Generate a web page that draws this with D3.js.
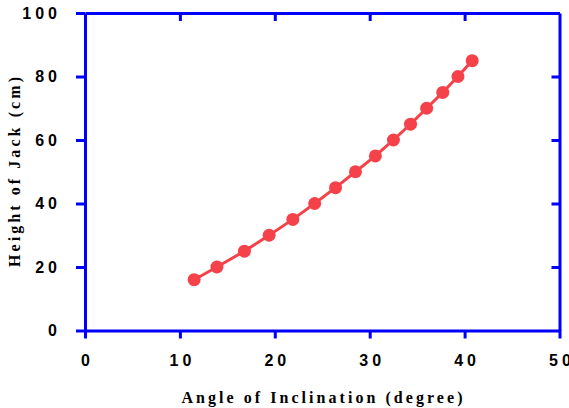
<!DOCTYPE html>
<html>
<head>
<meta charset="utf-8">
<title></title>
<script src="https://cdn.jsdelivr.net/npm/d3@7"></script>
<style>
  body {margin: 0; background: #fff;}
  .axisTitle {font-family: "Liberation Serif", "Times New Roman", serif; font-weight: bold; font-size: 16px; fill: #000;}
</style>
</head>
<body>
<div id="chart"></div>
<script>
// data
var angle = [11.5, 13.9, 16.8, 19.4, 21.9, 24.2, 26.4, 28.5, 30.6, 32.5, 34.3, 36.0, 37.7, 39.3, 40.8];
var height = [16, 20, 25, 30, 35, 40, 45, 50, 55, 60, 65, 70, 75, 80, 85];
var xTicks = [0, 10, 20, 30, 40, 50];
var yTicks = [0, 20, 40, 60, 80, 100];

var W = 569, H = 408;
var margin = {top: 13, right: 9.5, bottom: 77.5, left: 85};
var w = W - margin.left - margin.right,
    h = H - margin.top - margin.bottom;
var blue = "#0000ff", red = "#f5424a";

var svg = d3.select("#chart").append("svg")
  .attr("width", W)
  .attr("height", H);
var g = svg.append("g")
  .attr("transform", "translate(" + margin.left + "," + margin.top + ")");

var x = d3.scaleLinear().domain([0, 50]).range([0, w]);
var y = d3.scaleLinear().domain([0, 100]).range([h, 0]);

function styleAxis(sel) {
  sel.select(".domain").attr("stroke", blue).attr("stroke-width", 3);
  sel.selectAll(".tick line").attr("stroke", blue).attr("stroke-width", 3);
  sel.selectAll(".tick text")
    .attr("font-family", "'Liberation Sans', Arial, sans-serif")
    .attr("font-weight", "bold")
    .attr("font-size", 16)
    .attr("letter-spacing", "4px")
    .attr("fill", "#000");
}

// bottom + left, outward ticks with labels
var xAxisB = g.append("g")
  .attr("transform", "translate(0," + h + ")")
  .call(d3.axisBottom(x).tickValues(xTicks).tickSize(8).tickSizeOuter(0).tickPadding(16.5));
styleAxis(xAxisB);
xAxisB.selectAll(".tick text").attr("dx", "2px");

var yAxisL = g.append("g")
  .call(d3.axisLeft(y).tickValues(yTicks).tickSize(9).tickSizeOuter(0).tickPadding(15));
styleAxis(yAxisL);

// top + right, inward ticks no labels
var xAxisT = g.append("g")
  .call(d3.axisTop(x).tickValues(xTicks.slice(1, -1)).tickSize(-8).tickSizeOuter(0).tickFormat(""));
styleAxis(xAxisT);
var yAxisR = g.append("g")
  .attr("transform", "translate(" + w + ",0)")
  .call(d3.axisRight(y).tickValues(yTicks.slice(1, -1)).tickSize(-8).tickSizeOuter(0).tickFormat(""));
styleAxis(yAxisR);

// line + points
var pts = angle.map(function(a, i) { return [a, height[i]]; });
g.append("path")
  .datum(pts)
  .attr("fill", "none")
  .attr("stroke", red)
  .attr("stroke-width", 3)
  .attr("d", d3.line()
    .x(function(d) { return x(d[0]); })
    .y(function(d) { return y(d[1]); }));
g.append("g")
  .selectAll("circle")
  .data(pts)
  .enter()
  .append("circle")
    .attr("cx", function(d) { return x(d[0]); })
    .attr("cy", function(d) { return y(d[1]); })
    .attr("r", 6.5)
    .attr("fill", red);

// axis titles
svg.append("text")
  .attr("class", "axisTitle")
  .attr("x", 181.5)
  .attr("y", 403)
  .attr("textLength", 281)
  .attr("lengthAdjust", "spacing")
  .text("Angle of Inclination (degree)");

svg.append("text")
  .attr("class", "axisTitle")
  .attr("transform", "translate(20,267) rotate(-90)")
  .attr("textLength", 190)
  .attr("lengthAdjust", "spacing")
  .text("Height of Jack (cm)");
</script>
</body>
</html>
